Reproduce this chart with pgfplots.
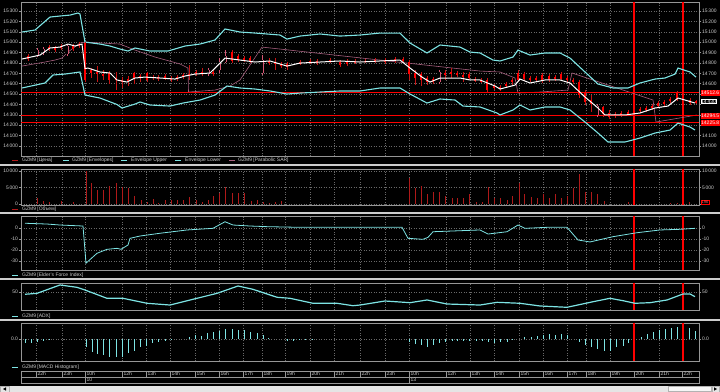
\documentclass[border=0pt]{standalone}
\usepackage{pgfplots}
\pgfplotsset{compat=1.18}
\usepackage{pgfplotstable}
\usepackage{fontspec}
\setmainfont{Liberation Sans}
\definecolor{cy}{RGB}{125,228,228}
\definecolor{gridc}{RGB}{105,105,105}
\definecolor{framec}{RGB}{150,150,150}
\definecolor{txt}{RGB}{205,205,205}
\definecolor{sar}{RGB}{165,95,125}
\definecolor{vol}{RGB}{175,25,25}
\definecolor{hol}{RGB}{215,85,115}
\definecolor{wick}{RGB}{200,20,20}
\newcommand{\tf}{\fontsize{5}{6}\selectfont}

\pgfplotstableread{
x hi lo top bot
28 14886 14819 14867 14838
49 14973 14915 14953 14934
55 14963 14905 14944 14924
61 14982 14924 14963 14944
73 14982 14915 14963 14934
79 15001 14944 14982 14963
85 15001 14616 14992 14636
91 14751 14655 14732 14703
97 14770 14616 14713 14693
103 14732 14636 14693 14674
109 14722 14597 14703 14636
116 14713 14539 14655 14636
122 14664 14559 14636 14616
128 14674 14578 14645 14626
134 14713 14597 14703 14655
140 14693 14616 14674 14655
147 14713 14616 14703 14636
153 14684 14636 14664 14655
158 14684 14626 14664 14645
165 14693 14636 14674 14655
171 14674 14616 14655 14636
177 14684 14626 14664 14645
183 14703 14645 14684 14664
189 14780 14636 14693 14674
196 14732 14674 14713 14693
202 14751 14674 14713 14693
213 14732 14674 14713 14693
232 14924 14799 14905 14819
238 14886 14809 14867 14828
244 14867 14809 14847 14828
250 14867 14799 14847 14819
269 14847 14780 14819 14799
275 14847 14732 14809 14790
281 14809 14751 14790 14770
287 14809 14732 14790 14761
300 14828 14780 14809 14790
310 14838 14790 14819 14799
317 14838 14780 14819 14799
330 14847 14799 14828 14809
340 14828 14761 14809 14780
347 14838 14770 14819 14790
355 14838 14790 14819 14799
365 14838 14799 14819 14809
375 14847 14799 14828 14809
385 14847 14790 14828 14809
395 14857 14799 14838 14819
403 14857 14799 14838 14819
409 14828 14636 14809 14693
415 14732 14587 14703 14655
421 14713 14578 14693 14636
427 14674 14587 14655 14616
433 14664 14597 14645 14616
445 14732 14636 14703 14684
451 14751 14655 14713 14693
457 14722 14664 14703 14684
463 14713 14616 14684 14664
469 14713 14636 14693 14655
475 14664 14616 14645 14626
481 14655 14607 14636 14616
487 14655 14520 14636 14539
494 14597 14539 14578 14559
500 14587 14530 14568 14549
506 14616 14559 14597 14578
512 14655 14587 14636 14616
518 14732 14616 14703 14636
524 14713 14626 14693 14645
530 14674 14616 14655 14636
536 14674 14626 14655 14636
542 14703 14607 14684 14636
549 14693 14616 14674 14636
555 14684 14626 14664 14645
561 14713 14626 14693 14645
567 14674 14616 14655 14636
573 14655 14597 14636 14616
579 14636 14462 14616 14491
585 14539 14395 14520 14424
591 14491 14328 14443 14404
603 14385 14280 14376 14308
609 14347 14260 14318 14280
615 14328 14270 14308 14289
621 14337 14280 14318 14299
628 14347 14289 14328 14308
634 14356 14299 14337 14318
640 14376 14318 14356 14337
646 14385 14328 14366 14347
652 14404 14347 14385 14366
658 14433 14366 14414 14385
664 14443 14385 14424 14404
670 14472 14414 14453 14433
677 14530 14433 14510 14443
683 14510 14424 14491 14443
690 14462 14395 14443 14414
696 14443 14404 14433 14414
}\redc

\pgfplotstableread{
x hi lo top bot
37 14944 14857 14924 14876
43 14953 14876 14934 14896
67 14982 14867 14963 14886
208 14751 14674 14732 14693
219 14847 14703 14809 14732
225 14924 14799 14867 14809
262 14876 14684 14828 14703
439 14732 14597 14713 14616
597 14404 14280 14385 14299
}\holc

\pgfplotsset{
 panel/.style={scale only axis, anchor=south west, width=678bp, xmin=21, xmax=699,
   axis line style={draw=framec, line width=0.8bp},
   xtick={36,62,85,122,146,170,195,219,243,262,285,310,334,360,385,409,446,470,494,519,543,567,586,610,634,659,682},
   xticklabels={}, major x tick style={draw=none},
   xmajorgrids, ymajorgrids,
   grid style={gridc, dash pattern=on 1bp off 1.5bp, line width=0.5bp},
   tick align=outside, major tick length=2bp,
   major y tick style={draw=framec, line width=0.5bp},
   yticklabel style={font=\tf, text=txt, inner sep=0.8bp},
   scaled y ticks=false,
   /pgf/number format/assume math mode=true,
   /pgf/number format/1000 sep={\,},
 },
 redv/.style={extra x ticks={634,683}, extra x tick labels={},
   extra x tick style={grid=major, grid style={red, solid, line width=1.2bp}, major tick length=0pt}},
 rside/.style={panel, xmajorgrids=false, ymajorgrids=false, axis line style={draw=none}, yticklabel pos=right, clip=false},
}

\begin{document}
\begin{tikzpicture}
\path[use as bounding box] (0,0) rectangle (720bp,-392bp);
\fill[black] (0,0) rectangle (720bp,-392bp);

% ---------------- main price panel
\begin{axis}[panel, redv, at={(21bp,-156bp)}, height=154bp, ymin=13904, ymax=15387,
  ytick={14000,14100,...,15300}]
\addplot[sar, line width=0.6bp] coordinates {(22,14770) (45,14809) (55,14828) (62,14847) (68,14905) (80,14992) (85,15001) (120,14982) (135,14924) (155,14857) (180,14790) (188,14751) (188.5,14520) (215,14539) (230,14578) (240,14636) (262,14953) (480,14722) (500,14713) (515,14655) (518,14510) (540,14520) (568,14539) (572,14703) (653,14443) (656,14231) (697,14299)};
\addplot[red, line width=1.2bp] coordinates {(21,14512.6) (699,14512.6)};
\addplot[red, line width=1.2bp] coordinates {(21,14294.5) (699,14294.5)};
\addplot[red, line width=1.2bp] coordinates {(21,14225.8) (699,14225.8)};
\addplot[cy, line width=1.1bp] coordinates {(22,15098) (35,15117) (50,15242) (60,15252) (70,15261) (78,15281) (80,15271) (85,15001) (100,14982) (110,14963) (120,14934) (128,14915) (135,14944) (150,14915) (168,14915) (185,14963) (200,14982) (215,15021) (225,15127) (240,15098) (255,15088) (280,15069) (287,15030) (300,15059) (320,15079) (340,15059) (360,15069) (380,15088) (400,15088) (410,14992) (427,14896) (440,14973) (460,14953) (470,14905) (480,14896) (493,14828) (500,14819) (513,14857) (518,14924) (530,14876) (545,14896) (560,14896) (570,14847) (585,14713) (598,14597) (613,14559) (628,14559) (640,14607) (655,14645) (665,14655) (675,14693) (678,14751) (690,14713) (696,14664)};
\addplot[cy, line width=1.1bp] coordinates {(22,14559) (45,14607) (53,14684) (65,14693) (80,14713) (85,14491) (100,14462) (117,14400) (122,14366) (135,14404) (140,14424) (150,14395) (170,14385) (183,14414) (200,14443) (215,14491) (227,14578) (240,14559) (255,14549) (270,14530) (287,14501) (300,14510) (320,14520) (340,14530) (360,14530) (380,14559) (400,14559) (410,14501) (427,14414) (440,14453) (455,14443) (463,14385) (480,14376) (497,14318) (500,14299) (513,14347) (520,14395) (530,14347) (545,14376) (560,14376) (570,14347) (585,14231) (598,14125) (608,14039) (625,14039) (640,14077) (655,14125) (670,14154) (678,14221) (690,14183) (695,14154)};
% candles
\addplot[draw=none, mark=none, forget plot, error bars/.cd, y dir=minus, y explicit, error mark=none,
  error bar style={draw=wick, line width=0.7bp}]
  table[x=x, y=hi, y error minus expr=\thisrow{hi}-\thisrow{lo}] {\redc};
\addplot[draw=none, mark=none, forget plot, error bars/.cd, y dir=minus, y explicit, error mark=none,
  error bar style={draw=hol, line width=0.7bp}]
  table[x=x, y=hi, y error minus expr=\thisrow{hi}-\thisrow{lo}] {\holc};
\addplot[draw=none, mark=none, forget plot, error bars/.cd, y dir=minus, y explicit, error mark=none,
  error bar style={draw=red, line width=2.6bp}]
  table[x=x, y=top, y error minus expr=\thisrow{top}-\thisrow{bot}] {\redc};
\addplot[draw=none, mark=none, forget plot, error bars/.cd, y dir=minus, y explicit, error mark=none,
  error bar style={draw=hol, line width=3bp}]
  table[x=x, y=top, y error minus expr=\thisrow{top}-\thisrow{bot}] {\holc};
\addplot[draw=none, mark=none, forget plot, error bars/.cd, y dir=minus, y explicit, error mark=none,
  error bar style={draw=black, line width=1.4bp}]
  table[x=x, y=top, y error minus expr=\thisrow{top}-\thisrow{bot}] {\holc};
\addplot[white, line width=1bp] coordinates {(22,14838) (40,14876) (50,14944) (60,14953) (68,14982) (75,14963) (82,14982) (85,14746) (88,14751) (100,14713) (110,14703) (117,14636) (127,14616) (135,14655) (145,14664) (160,14655) (175,14645) (185,14674) (195,14693) (210,14703) (220,14799) (225,14847) (240,14828) (255,14809) (270,14819) (287,14770) (300,14799) (320,14809) (340,14819) (360,14809) (380,14819) (400,14828) (410,14751) (422,14664) (430,14616) (440,14655) (460,14655) (470,14636) (480,14636) (495,14578) (500,14549) (515,14587) (520,14645) (530,14607) (545,14636) (560,14636) (570,14607) (585,14472) (598,14366) (605,14299) (625,14299) (640,14318) (655,14366) (668,14385) (678,14462) (685,14443) (695,14414)};
\end{axis}
\begin{axis}[rside, at={(21bp,-156bp)}, height=154bp, ymin=13904, ymax=15387,
  ytick={14000,14100,14600,14700,14800,14900,15000,15100,15200,15300}]
\node[anchor=west, fill=red, draw=red, text=white, font=\tf, inner sep=0.5bp, xshift=1.5bp] at (axis cs:699,14512.6) {14512.6};
\node[anchor=west, fill=black, draw=white, text=white, font=\tf, inner sep=0.5bp, xshift=1.5bp] at (axis cs:699,14430) {14\,430};
\node[anchor=west, fill=red, draw=red, text=white, font=\tf, inner sep=0.5bp, xshift=1.5bp] at (axis cs:699,14294.5) {14294.5};
\node[anchor=west, fill=red, draw=red, text=white, font=\tf, inner sep=0.5bp, xshift=1.5bp] at (axis cs:699,14225.8) {14225.8};
\end{axis}

% ---------------- volume
\begin{axis}[panel, redv, at={(21bp,-205bp)}, height=36bp, ymin=-303, ymax=10606, ytick={0,5000,10000}]
\addplot[vol, ycomb, line width=0.8bp] coordinates {(37,1900) (43,1000) (49,700) (61,900) (73,700) (86,10000) (91,6500) (97,4200) (103,4300) (109,5600) (116,6300) (122,5100) (128,4800) (134,2500) (141,1200) (147,700) (153,1400) (158,400) (165,1200) (171,1200) (177,1200) (183,1200) (189,2200) (196,1200) (202,700) (208,1200) (213,2400) (219,3400) (225,5200) (232,3400) (238,3400) (244,3200) (251,1000) (257,1200) (263,700) (269,400) (275,700) (281,1000) (409,7800) (415,4800) (421,5500) (427,2900) (433,3700) (439,3700) (445,2400) (452,1700) (457,1700) (463,1900) (469,2900) (476,700) (482,700) (488,5300) (494,1700) (500,1900) (507,1200) (512,2500) (519,6300) (524,2900) (531,2200) (537,1900) (543,2900) (549,1900) (555,2900) (561,1900) (567,2400) (573,4900) (579,9100) (585,3700) (591,3500) (597,3100) (604,1000) (628,500) (670,200) (677,200) (689,500)};
\end{axis}
\begin{axis}[rside, at={(21bp,-205bp)}, height=36bp, ymin=-303, ymax=10606, ytick={5000,10000}]
\node[anchor=west, fill=black, draw=red, text=red!60!white, font=\fontsize{4}{5}\selectfont, inner sep=0.5bp, xshift=2bp] at (axis cs:699,500) {196};
\end{axis}

% ---------------- Elder's force index
\begin{axis}[panel, redv, at={(21bp,-270bp)}, height=54bp, ymin=-38.2, ymax=10.9, ytick={-30,-20,-10,0}]
\addplot[cy, line width=0.8bp] coordinates {(25,4.3) (47,3.6) (60,2.7) (83,1.8) (86,-32) (97,-23) (107,-19.4) (117,-18.5) (121,-19.4) (128,-15.5) (130,-9.4) (140,-7.3) (160,-4.8) (187,-1.8) (213,-0.3) (225,5.7) (233,2.7) (250,1.8) (267,1.2) (300,0.6) (402,0.6) (408,-9.4) (423,-10.3) (428,-8.5) (433,-3.4) (480,-1.8) (488,-5.5) (507,-3.4) (518,2.7) (525,-0.3) (547,0.6) (567,0.6) (578,-10.9) (590,-12.7) (613,-7.9) (637,-4.3) (660,-1.8) (680,-1.2) (695,-0.3)};
\end{axis}
\begin{axis}[rside, at={(21bp,-270bp)}, height=54bp, ymin=-38.2, ymax=10.9, ytick={-30,-20,-10,0}]
\end{axis}

% ---------------- ADX
\begin{axis}[panel, redv, at={(21bp,-310bp)}, height=27bp, ymin=20, ymax=65, ytick={50}]
\addplot[cy, line width=1.2bp] coordinates {(25,46.2) (37,47.8) (60,61.7) (77,57.8) (85,53.3) (107,39.5) (123,39.5) (147,31.2) (170,28.3) (197,39.5) (217,47.8) (238,60) (253,54.5) (277,41.2) (290,39.5) (313,31.2) (337,31.2) (353,27.2) (360,28.3) (385,35) (410,32.2) (427,36.7) (447,30) (480,28.3) (497,32.8) (520,31.2) (540,26.7) (567,24.5) (593,33.8) (610,39.5) (623,35.5) (635,31.2) (650,32.2) (667,36.7) (683,46.7) (690,46.7) (695,42.2)};
\end{axis}
\begin{axis}[rside, at={(21bp,-310bp)}, height=27bp, ymin=20, ymax=65, ytick={50}]
\end{axis}

% ---------------- MACD histogram
\begin{axis}[panel, redv, at={(21bp,-361bp)}, height=38bp, ymin=-220, ymax=160, ytick={0}, yticklabels={0.0}]
\addplot[cy, ycomb, line width=0.8bp] coordinates {(25,-43) (31,-37) (37,-33) (43,-20) (49,-3) (86,-83) (92,-127) (97,-153) (103,-160) (109,-177) (116,-183) (122,-177) (128,-143) (134,-117) (140,-83) (146,-67) (152,-43) (158,-33) (165,-20) (171,-10) (189,17) (195,40) (201,30) (207,57) (213,67) (219,80) (225,100) (232,97) (238,90) (244,90) (250,67) (257,57) (263,40) (268,13) (287,-17) (293,-20) (299,-13) (305,-10) (312,-3) (409,-27) (415,-50) (421,-60) (427,-83) (433,-60) (439,-43) (445,-27) (452,-20) (457,-17) (463,-20) (469,-17) (476,-20) (482,-17) (488,-27) (494,-37) (500,-33) (507,-27) (512,-10) (524,17) (531,23) (537,30) (543,40) (549,50) (555,40) (561,50) (567,40) (579,-27) (585,-60) (591,-83) (597,-103) (604,-117) (610,-120) (616,-83) (623,-67) (628,-43) (641,17) (647,50) (653,73) (659,90) (665,97) (671,107) (677,123) (689,107) (695,83)};
\end{axis}
\begin{axis}[rside, at={(21bp,-361bp)}, height=38bp, ymin=-220, ymax=160, ytick={0}, yticklabels={0.0}]
\end{axis}

% ---------------- separators
\foreach \yy in {165,213,279,320} {
  \draw[white!80!black, line width=1.5bp] (0,-\yy bp) -- (720bp,-\yy bp);
}

% ---------------- legends
\begin{scope}[font=\tf, text=txt]
\draw[vol, line width=1bp] (12bp,-160bp) -- (18bp,-160bp);
\node[anchor=west, inner sep=0] at (22bp,-160bp) {GZM9 [Цена]};
\draw[cy, line width=1bp] (63bp,-160bp) -- (69bp,-160bp);
\node[anchor=west, inner sep=0] at (72bp,-160bp) {GZM9 [Envelopes]};
\draw[cy, line width=1bp] (121bp,-160bp) -- (127bp,-160bp);
\node[anchor=west, inner sep=0] at (131bp,-160bp) {Envelope Upper};
\draw[cy, line width=1bp] (175bp,-160bp) -- (181bp,-160bp);
\node[anchor=west, inner sep=0] at (185bp,-160bp) {Envelope Lower};
\draw[sar, line width=1bp] (229bp,-160bp) -- (235bp,-160bp);
\node[anchor=west, inner sep=0] at (238bp,-160bp) {GZM9 [Parabolic SAR]};
\draw[vol, line width=1bp] (12bp,-209.5bp) -- (18bp,-209.5bp);
\node[anchor=west, inner sep=0] at (22bp,-209.5bp) {GZM9 [Объем]};
\draw[cy, line width=1bp] (12bp,-275bp) -- (18bp,-275bp);
\node[anchor=west, inner sep=0] at (22bp,-275bp) {GZM9 [Elder's Force Index]};
\draw[cy, line width=1bp] (12bp,-316bp) -- (18bp,-316bp);
\node[anchor=west, inner sep=0] at (22bp,-316bp) {GZM9 [ADX]};
\draw[cy, line width=1bp] (12bp,-367bp) -- (18bp,-367bp);
\node[anchor=west, inner sep=0] at (22bp,-367bp) {GZM9 [MACD Histogram]};
\end{scope}

% ---------------- time axis
\draw[framec, line width=0.6bp] (21bp,-371bp) rectangle (699bp,-383bp);
\draw[framec, line width=0.6bp] (21bp,-377bp) -- (699bp,-377bp);
\foreach \xx/\ll in {36/22h,62/23h,85/10h,122/12h,146/13h,170/14h,195/15h,219/16h,243/17h,262/18h,285/19h,310/20h,334/21h,360/22h,385/23h,409/10h,446/12h,470/13h,494/14h,519/15h,543/16h,567/17h,586/18h,610/19h,634/20h,659/21h,682/22h} {
  \draw[framec, line width=0.6bp] (\xx bp,-371bp) -- (\xx bp,-377bp);
  \node[anchor=west, font=\tf, text=txt, inner sep=0] at (\xx bp+1.5bp,-374bp) {\ll};
}
\draw[framec, line width=0.6bp] (85bp,-377bp) -- (85bp,-383bp);
\draw[framec, line width=0.6bp] (409bp,-377bp) -- (409bp,-383bp);
\node[anchor=west, font=\tf, text=txt, inner sep=0] at (86.5bp,-380bp) {10};
\node[anchor=west, font=\tf, text=txt, inner sep=0] at (410.5bp,-380bp) {13};

% ---------------- bottom scroll strip
\fill[gray!20] (0,-385.5bp) rectangle (720bp,-392bp);
\draw[gray!60, line width=0.5bp] (0.5bp,-386bp) rectangle (9bp,-392bp);
\fill[black] (3bp,-389bp) -- (6bp,-387.3bp) -- (6bp,-390.7bp) -- cycle;
\fill[gray!8] (668bp,-386bp) rectangle (711bp,-391.5bp);
\draw[gray!60, line width=0.5bp] (668bp,-386bp) rectangle (711bp,-391.5bp);
\draw[gray!60, line width=0.5bp] (712bp,-386bp) rectangle (719.5bp,-392bp);
\fill[black] (717bp,-389bp) -- (714bp,-387.3bp) -- (714bp,-390.7bp) -- cycle;
\end{tikzpicture}
\end{document}
